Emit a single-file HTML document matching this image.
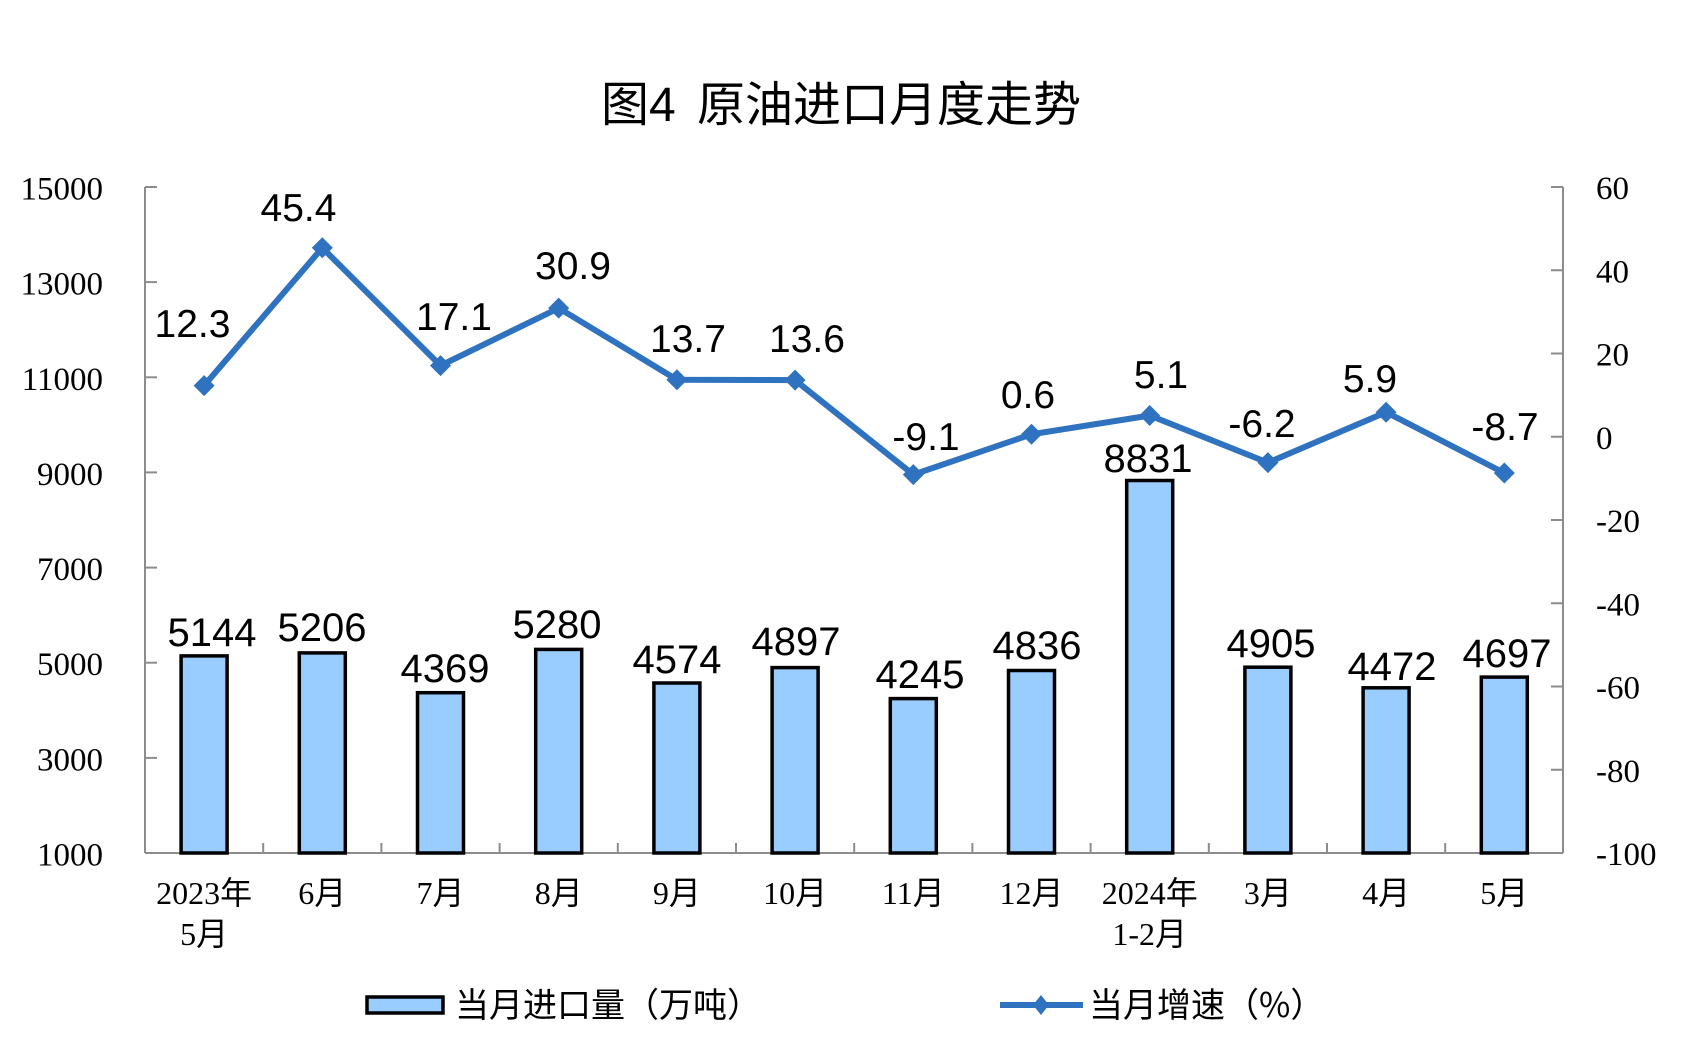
<!DOCTYPE html>
<html>
<head>
<meta charset="utf-8">
<style>
  html, body { margin: 0; padding: 0; background: #ffffff; }
  svg { display: block; }
  .ax { font-family: "Liberation Serif", "Noto Serif CJK SC", serif; font-size: 33px; fill: #000; }
  .xl { font-family: "Liberation Serif", "Noto Sans CJK SC", sans-serif; font-size: 32px; fill: #000; }
  .bl { font-family: "Liberation Sans", sans-serif; font-size: 40px; fill: #000; }
  .ll { font-family: "Liberation Sans", sans-serif; font-size: 39px; fill: #000; }
  .ti { font-family: "Liberation Sans", "Noto Sans CJK SC", sans-serif; font-size: 48px; fill: #000; font-weight: normal; }
  .lg { font-family: "Noto Sans CJK SC", "Liberation Sans", sans-serif; font-size: 34px; fill: #000; }
</style>
</head>
<body>
<svg width="1692" height="1056" viewBox="0 0 1692 1056" xmlns="http://www.w3.org/2000/svg">
  <rect x="0" y="0" width="1692" height="1056" fill="#ffffff"/>

  <!-- Title -->
  <text class="ti" x="601" y="121">图4</text>
  <text class="ti" x="697" y="121">原油进口月度走势</text>

  <!-- Axes -->
  <g stroke="#8c8c8c" stroke-width="2" fill="none">
    <line x1="145" y1="187" x2="145" y2="853"/>
    <line x1="1563" y1="187" x2="1563" y2="853"/>
    <line x1="145" y1="853" x2="1563" y2="853"/>
    <line x1="145" y1="187" x2="157" y2="187"/>
    <line x1="145" y1="282.1" x2="157" y2="282.1"/>
    <line x1="145" y1="377.3" x2="157" y2="377.3"/>
    <line x1="145" y1="472.4" x2="157" y2="472.4"/>
    <line x1="145" y1="567.6" x2="157" y2="567.6"/>
    <line x1="145" y1="662.7" x2="157" y2="662.7"/>
    <line x1="145" y1="757.9" x2="157" y2="757.9"/>
    <line x1="1551" y1="187" x2="1563" y2="187"/>
    <line x1="1551" y1="270.25" x2="1563" y2="270.25"/>
    <line x1="1551" y1="353.5" x2="1563" y2="353.5"/>
    <line x1="1551" y1="436.75" x2="1563" y2="436.75"/>
    <line x1="1551" y1="520" x2="1563" y2="520"/>
    <line x1="1551" y1="603.25" x2="1563" y2="603.25"/>
    <line x1="1551" y1="686.5" x2="1563" y2="686.5"/>
    <line x1="1551" y1="769.75" x2="1563" y2="769.75"/>
    <line x1="263.2" y1="843" x2="263.2" y2="853"/>
    <line x1="381.4" y1="843" x2="381.4" y2="853"/>
    <line x1="499.6" y1="843" x2="499.6" y2="853"/>
    <line x1="617.8" y1="843" x2="617.8" y2="853"/>
    <line x1="736" y1="843" x2="736" y2="853"/>
    <line x1="854.2" y1="843" x2="854.2" y2="853"/>
    <line x1="972.4" y1="843" x2="972.4" y2="853"/>
    <line x1="1090.6" y1="843" x2="1090.6" y2="853"/>
    <line x1="1208.8" y1="843" x2="1208.8" y2="853"/>
    <line x1="1327" y1="843" x2="1327" y2="853"/>
    <line x1="1445.2" y1="843" x2="1445.2" y2="853"/>
  </g>

  <!-- Left axis labels -->
  <g class="ax" text-anchor="end">
    <text x="103" y="199.5">15000</text>
    <text x="103" y="294.6">13000</text>
    <text x="103" y="389.8">11000</text>
    <text x="103" y="484.9">9000</text>
    <text x="103" y="580.1">7000</text>
    <text x="103" y="675.2">5000</text>
    <text x="103" y="770.4">3000</text>
    <text x="103" y="865.5">1000</text>
  </g>

  <!-- Right axis labels -->
  <g class="ax" text-anchor="start">
    <text x="1596" y="199">60</text>
    <text x="1596" y="282.25">40</text>
    <text x="1596" y="365.5">20</text>
    <text x="1596" y="448.75">0</text>
    <text x="1596" y="532">-20</text>
    <text x="1596" y="615.25">-40</text>
    <text x="1596" y="698.5">-60</text>
    <text x="1596" y="781.75">-80</text>
    <text x="1596" y="865">-100</text>
  </g>

  <!-- Bars -->
  <g fill="#99ccff" stroke="#000" stroke-width="3.5">
    <rect x="181.1" y="655.9" width="46" height="197.1"/>
    <rect x="299.3" y="652.9" width="46" height="200.1"/>
    <rect x="417.5" y="692.7" width="46" height="160.3"/>
    <rect x="535.7" y="649.4" width="46" height="203.6"/>
    <rect x="653.9" y="683.0" width="46" height="170.0"/>
    <rect x="772.1" y="667.6" width="46" height="185.4"/>
    <rect x="890.3" y="698.6" width="46" height="154.4"/>
    <rect x="1008.5" y="670.5" width="46" height="182.5"/>
    <rect x="1126.7" y="480.5" width="46" height="372.5"/>
    <rect x="1244.9" y="667.2" width="46" height="185.8"/>
    <rect x="1363.1" y="687.8" width="46" height="165.2"/>
    <rect x="1481.3" y="677.1" width="46" height="175.9"/>
  </g>

  <!-- Bar labels -->
  <g class="bl" text-anchor="middle">
    <text x="212" y="646">5144</text>
    <text x="322" y="641">5206</text>
    <text x="445" y="682">4369</text>
    <text x="557" y="638">5280</text>
    <text x="677" y="673">4574</text>
    <text x="796" y="655">4897</text>
    <text x="920" y="688">4245</text>
    <text x="1037" y="659">4836</text>
    <text x="1148" y="472">8831</text>
    <text x="1271" y="657">4905</text>
    <text x="1392" y="680">4472</text>
    <text x="1507" y="667">4697</text>
  </g>

  <!-- Line series -->
  <polyline fill="none" stroke="#2e72c0" stroke-width="6" stroke-linejoin="miter"
    points="204.1,385.6 322.3,247.8 440.5,365.6 558.7,308.1 676.9,379.7 795.1,380.1 913.3,474.6 1031.5,434.3 1149.7,415.5 1267.9,462.6 1386.1,412.2 1504.3,473.0"/>
  <g fill="#2e72c0">
    <polygon points="204.1,375.1 214.6,385.6 204.1,396.1 193.6,385.6"/>
    <polygon points="322.3,237.3 332.8,247.8 322.3,258.3 311.8,247.8"/>
    <polygon points="440.5,355.1 451,365.6 440.5,376.1 430,365.6"/>
    <polygon points="558.7,297.6 569.2,308.1 558.7,318.6 548.2,308.1"/>
    <polygon points="676.9,369.2 687.4,379.7 676.9,390.2 666.4,379.7"/>
    <polygon points="795.1,369.6 805.6,380.1 795.1,390.6 784.6,380.1"/>
    <polygon points="913.3,464.1 923.8,474.6 913.3,485.1 902.8,474.6"/>
    <polygon points="1031.5,423.8 1042,434.3 1031.5,444.8 1021,434.3"/>
    <polygon points="1149.7,405 1160.2,415.5 1149.7,426 1139.2,415.5"/>
    <polygon points="1267.9,452.1 1278.4,462.6 1267.9,473.1 1257.4,462.6"/>
    <polygon points="1386.1,401.7 1396.6,412.2 1386.1,422.7 1375.6,412.2"/>
    <polygon points="1504.3,462.5 1514.8,473 1504.3,483.5 1493.8,473"/>
  </g>

  <!-- Line labels -->
  <g class="ll" text-anchor="middle">
    <text x="192.5" y="337">12.3</text>
    <text x="298.5" y="221">45.4</text>
    <text x="454" y="330">17.1</text>
    <text x="573" y="279">30.9</text>
    <text x="688" y="352">13.7</text>
    <text x="807" y="352">13.6</text>
    <text x="926" y="450">-9.1</text>
    <text x="1028" y="408">0.6</text>
    <text x="1161" y="388">5.1</text>
    <text x="1262" y="437">-6.2</text>
    <text x="1370" y="392">5.9</text>
    <text x="1505" y="440">-8.7</text>
  </g>

  <!-- X axis labels -->
  <g class="xl" text-anchor="middle">
    <text x="204.1" y="904">2023年</text>
    <text x="204.1" y="945">5月</text>
    <text x="322.3" y="904">6月</text>
    <text x="440.5" y="904">7月</text>
    <text x="558.7" y="904">8月</text>
    <text x="676.9" y="904">9月</text>
    <text x="795.1" y="904">10月</text>
    <text x="913.3" y="904">11月</text>
    <text x="1031.5" y="904">12月</text>
    <text x="1149.7" y="904">2024年</text>
    <text x="1149.7" y="945">1-2月</text>
    <text x="1267.9" y="904">3月</text>
    <text x="1386.1" y="904">4月</text>
    <text x="1504.3" y="904">5月</text>
  </g>

  <!-- Legend -->
  <rect x="367" y="997" width="76" height="16" fill="#99ccff" stroke="#000" stroke-width="3.5"/>
  <text class="lg" x="455" y="1017">当月进口量（万吨）</text>
  <line x1="1000" y1="1005" x2="1083" y2="1005" stroke="#2e72c0" stroke-width="6"/>
  <polygon points="1041,995 1049,1005 1041,1015 1033,1005" fill="#2e72c0"/>
  <text class="lg" x="1089" y="1017">当月增速（%）</text>
</svg>
</body>
</html>
